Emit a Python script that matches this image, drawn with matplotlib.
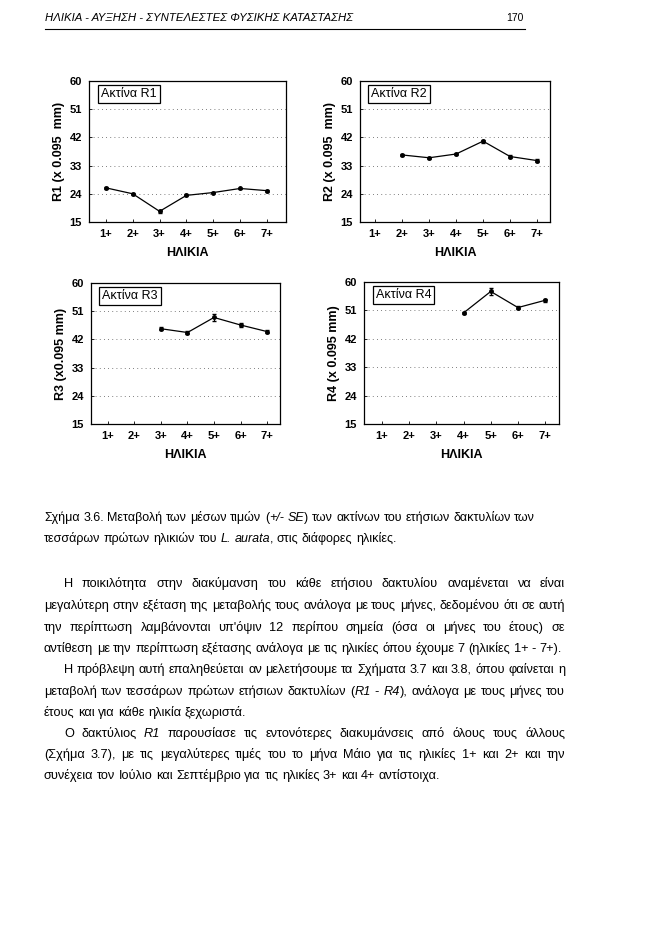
import re
import numpy as np
import matplotlib
matplotlib.use('Agg')
import matplotlib.pyplot as plt

plt.rcParams['font.family'] = ['Liberation Sans', 'DejaVu Sans']

# ---- data ----
ages = ['1+', '2+', '3+', '4+', '5+', '6+', '7+']
y_ticks = [15, 24, 33, 42, 51, 60]

r1_mean = [25.9, 24.0, 18.4, 23.5, 24.4, 25.7, 25.0]
r1_se = [0.3, 0.3, 0.4, 0.3, 0.3, 0.3, 0.3]
r2_mean = [None, 36.4, 35.5, 36.7, 40.8, 35.9, 34.6]
r2_se = [None, 0.3, 0.3, 0.3, 0.5, 0.4, 0.4]
r3_mean = [None, None, 45.4, 44.2, 49.0, 46.6, 44.5]
r3_se = [None, None, 0.4, 0.4, 1.2, 0.5, 0.6]
r4_mean = [None, None, None, 50.2, 57.0, 51.9, 54.2]
r4_se = [None, None, None, 0.3, 1.0, 0.4, 0.5]

panel_titles = ['Ακτίνα R1', 'Ακτίνα R2', 'Ακτίνα R3', 'Ακτίνα R4']
y_labels = ['R1 (x 0.095  mm)', 'R2 (x 0.095  mm)', 'R3 (x0.095 mm)', 'R4 (x 0.095 mm)']
x_label = 'ΗΛΙΚΙΑ'

header = 'ΗΛΙΚΙΑ - ΑΥΞΗΣΗ - ΣΥΝΤΕΛΕΣΤΕΣ ΦΥΣΙΚΗΣ ΚΑΤΑΣΤΑΣΗΣ'
page_no = '170'

caption = [
    'Σχήμα 3.6. Μεταβολή των μέσων τιμών (_+/-_ _SE_) των ακτίνων του ετήσιων δακτυλίων των',
    'τεσσάρων πρώτων ηλικιών του _L._ _aurata_, στις διάφορες ηλικίες.',
]

# (text, indent, justify)
body = [
    ('Η ποικιλότητα στην διακύμανση του κάθε ετήσιου δακτυλίου αναμένεται να είναι', True, True),
    ('μεγαλύτερη στην εξέταση της μεταβολής τους ανάλογα με τους μήνες, δεδομένου ότι σε αυτή', False, True),
    ('την περίπτωση λαμβάνονται υπ\'όψιν 12 περίπου σημεία (όσα οι μήνες του έτους) σε', False, True),
    ('αντίθεση με την περίπτωση εξέτασης ανάλογα με τις ηλικίες όπου έχουμε 7 (ηλικίες 1+ - 7+).', False, False),
    ('Η πρόβλεψη αυτή επαληθεύεται αν μελετήσουμε τα Σχήματα 3.7 και 3.8, όπου φαίνεται η', True, True),
    ('μεταβολή των τεσσάρων πρώτων ετήσιων δακτυλίων (_R1_ - _R4_), ανάλογα με τους μήνες του', False, True),
    ('έτους και για κάθε ηλικία ξεχωριστά.', False, False),
    ('Ο δακτύλιος _R1_ παρουσίασε τις εντονότερες διακυμάνσεις από όλους τους άλλους', True, True),
    ('(Σχήμα 3.7), με τις μεγαλύτερες τιμές του το μήνα Μάιο για τις ηλικίες 1+ και 2+ και την', False, True),
    ('συνέχεια τον Ιούλιο και Σεπτέμβριο για τις ηλικίες 3+ και 4+ αντίστοιχα.', False, False),
]

W, H = 664, 936
fig = plt.figure(figsize=(W / 100, H / 100), dpi=100)
fig.patch.set_facecolor('white')


def px_axes(x0, y0, x1, y1):
    return fig.add_axes([x0 / W, 1 - y1 / H, (x1 - x0) / W, (y1 - y0) / H])


def draw_panel(box, xlim, means, ses, title, ylabel):
    ax = px_axes(*box)
    xs = [i + 1 for i, m in enumerate(means) if m is not None]
    ms = [m for m in means if m is not None]
    es = [e for e in ses if e is not None]
    ax.errorbar(xs, ms, yerr=es, color='black', lw=0.9, marker='o', ms=2.5,
                capsize=1.5, elinewidth=0.8)
    ax.set_xlim(*xlim)
    ax.set_ylim(15, 60)
    ax.set_yticks(y_ticks)
    ax.set_xticks(range(1, len(ages) + 1))
    ax.set_xticklabels(ages)
    ax.tick_params(direction='in', length=2.5, width=0.6, labelsize=8, pad=5)
    for lab in ax.get_xticklabels() + ax.get_yticklabels():
        lab.set_fontweight('bold')
    ax.yaxis.grid(True, ls=(0, (1, 4)), color='#555555', lw=0.6)
    for s in ax.spines.values():
        s.set_linewidth(0.9)
    ax.set_ylabel(ylabel, fontsize=9, fontweight='bold', labelpad=3)
    ax.set_xlabel(x_label, fontsize=9, fontweight='bold', labelpad=6)
    ax.text(0.06, 0.95, title, transform=ax.transAxes, ha='left', va='top',
            fontsize=9, bbox=dict(boxstyle='square,pad=0.25', fc='white', ec='black', lw=0.9))
    return ax


draw_panel((89, 81, 286, 222), (0.37, 7.71), r1_mean, r1_se, panel_titles[0], y_labels[0])
draw_panel((360, 81, 550, 222), (0.44, 7.48), r2_mean, r2_se, panel_titles[1], y_labels[1])
draw_panel((91, 283, 280, 424), (0.36, 7.49), r3_mean, r3_se, panel_titles[2], y_labels[2])
draw_panel((364, 282, 559, 424), (0.34, 7.51), r4_mean, r4_se, panel_titles[3], y_labels[3])

# ---- page text ----
fig.text(45 / W, 1 - 18 / H, header, fontsize=8.2, style='italic', ha='left', va='center')
fig.text(506 / W, 1 - 18 / H, page_no, fontsize=7.5, ha='left', va='center')
fig.add_artist(plt.Line2D([45 / W, 525 / W], [1 - 29 / H, 1 - 29 / H], color='black', lw=0.8))

renderer = fig.canvas.get_renderer()


def split_segments(word):
    # pieces wrapped in _..._ are italic
    parts = re.split(r'(_[^_]+_)', word)
    return [(p.strip('_'), p.startswith('_')) for p in parts if p]


def draw_line(line, x0, x1, y, size, justify):
    words = line.split(' ')
    items = []
    for w in words:
        segs = []
        for txt, ital in split_segments(w):
            t = fig.text(0, 0, txt, fontsize=size, style='italic' if ital else 'normal',
                         ha='left', va='baseline')
            segs.append((t, t.get_window_extent(renderer).width))
        items.append(segs)
    widths = [sum(s[1] for s in segs) for segs in items]
    space = fig.text(0, 0, 'a a', fontsize=size).get_window_extent(renderer).width - \
        fig.text(0, 0, 'aa', fontsize=size).get_window_extent(renderer).width
    fig.texts[-2:] = []
    if justify and len(items) > 1:
        gap = (x1 - x0 - sum(widths)) / (len(items) - 1)
    else:
        gap = space
    x = x0
    for segs, wd in zip(items, widths):
        cx = x
        for t, sw in segs:
            t.set_position((cx / W, 1 - y / H))
            cx += sw
        x += wd + gap


cap_y = [521, 542]
for line, y in zip(caption, cap_y):
    draw_line(line, 44, 530, y, 9.0, False)

body_y = [587, 609, 631, 652, 673, 695, 716, 737, 758, 779]
for (line, indent, just), y in zip(body, body_y):
    draw_line(line, 64 if indent else 44, 565, y, 9.2, just)

fig.savefig('out.png', dpi=100, facecolor='white')
